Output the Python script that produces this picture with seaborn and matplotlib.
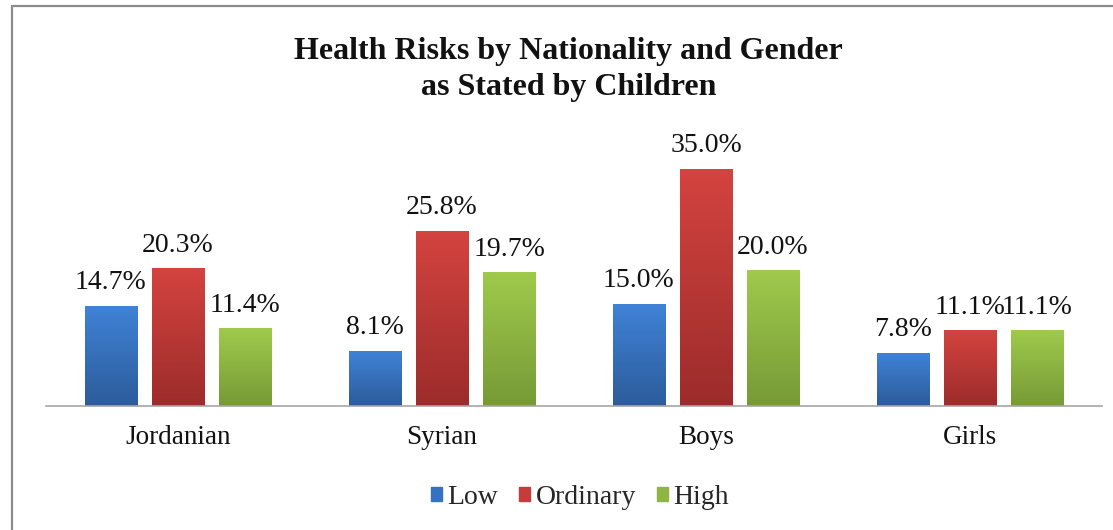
import matplotlib
matplotlib.use("Agg")
import matplotlib.pyplot as plt
import numpy as np
import pandas as pd
import seaborn as sns
from matplotlib.colors import LinearSegmentedColormap
from matplotlib.lines import Line2D

groups = ["Jordanian", "Syrian", "Boys", "Girls"]
levels = ["Low", "Ordinary", "High"]
low = [14.7, 8.1, 15.0, 7.8]
ordinary = [20.3, 25.8, 35.0, 11.1]
high = [11.4, 19.7, 20.0, 11.1]

# gradient colours per series: (top, bottom)
grad = {
    "Low": ("#3f82d6", "#2c5c9b"),
    "Ordinary": ("#d3433f", "#9c2c2b"),
    "High": ("#9fca4c", "#779a36"),
}
mid = {"Low": "#3672c2", "Ordinary": "#c63c3a", "High": "#8fb544"}

df = pd.DataFrame({
    "group": groups * 3,
    "level": ["Low"] * 4 + ["Ordinary"] * 4 + ["High"] * 4,
    "value": low + ordinary + high,
})

sns.set_theme(style="white")
plt.rcParams["font.family"] = ["Liberation Serif", "DejaVu Serif"]

fig = plt.figure(figsize=(11.13, 5.30), dpi=100)
ax = fig.add_axes([46 / 1113, 124 / 530, 1056 / 1113, 276 / 530])

sns.barplot(data=df, x="group", y="value", hue="level", hue_order=levels,
            palette=mid, width=0.762, gap=0.224, ax=ax, legend=True,
            errorbar=None)

ax.set_xlim(-0.5, 3.5)
ax.set_ylim(0, 40.8)

# paint a vertical gradient over each bar
for cont, lev in zip(ax.containers, levels):
    cmap = LinearSegmentedColormap.from_list(lev, [grad[lev][1], grad[lev][0]])
    for p in cont.patches:
        x, y = p.get_x(), p.get_y()
        w, h = p.get_width(), p.get_height()
        g = np.linspace(0, 1, 64).reshape(-1, 1)
        ax.imshow(g, cmap=cmap, origin="lower", extent=[x, x + w, y, y + h],
                  aspect="auto", zorder=p.get_zorder() + 0.1)
    ax.bar_label(cont, fmt="%.1f%%", padding=8, fontsize=20, color="#111111")

ax.set_xlim(-0.5, 3.5)
ax.set_ylim(0, 40.8)
ax.set_xlabel("")
ax.set_ylabel("")
ax.set_yticks([])
ax.tick_params(axis="x", length=0, pad=14, labelsize=19.5, labelcolor="#111111")
for s in ["left", "right", "top"]:
    ax.spines[s].set_visible(False)
ax.spines["bottom"].set_color("#a6a6a6")
ax.spines["bottom"].set_linewidth(1.2)

ax.legend_.remove()
handles = [plt.Rectangle((0, 0), 1, 1, color=mid[l]) for l in levels]
fig.legend(handles, levels, loc="center", bbox_to_anchor=(0.521, 0.062), ncol=3,
           frameon=False, fontsize=20, handlelength=0.4, handleheight=0.4,
           handletextpad=0.2, columnspacing=0.75)

fig.text(0.511, 1 - 51 / 530, "Health Risks by Nationality and Gender",
         ha="center", va="center", fontsize=23, fontweight="bold", color="#111111")
fig.text(0.511, 1 - 87 / 530, "as Stated by Children",
         ha="center", va="center", fontsize=23, fontweight="bold", color="#111111")

# outer chart frame (left and top edges visible)
fig.add_artist(Line2D([11.5 / 1113, 11.5 / 1113], [0, 1 - 5.5 / 530],
                      transform=fig.transFigure, color="#8c8c8c", lw=1.6))
fig.add_artist(Line2D([11.5 / 1113, 1], [1 - 5.5 / 530, 1 - 5.5 / 530],
                      transform=fig.transFigure, color="#8c8c8c", lw=1.6))

fig.savefig("out.png", dpi=100)
